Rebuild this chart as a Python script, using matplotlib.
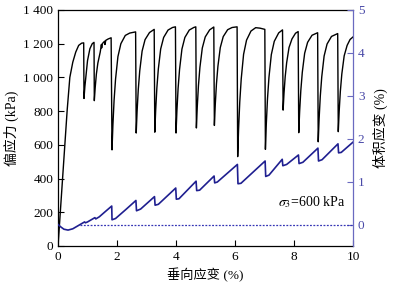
import matplotlib
matplotlib.use('Agg')
import matplotlib.pyplot as plt

plt.rcParams['font.family'] = ['Liberation Serif', 'Noto Sans CJK SC']
plt.rcParams['mathtext.fontset'] = 'stix'

# deviatoric stress (kPa) vs axial strain (%)
strain_q = [0, 0.12, 0.24, 0.31, 0.4, 0.5, 0.6, 0.7, 0.8, 0.87,
            0.88, 0.91, 0.95, 1.0, 1.08, 1.16, 1.22,
            1.23, 1.26, 1.3, 1.35, 1.43, 1.47, 1.48, 1.5, 1.58, 1.59, 1.62, 1.7, 1.8,
            1.83, 1.86, 1.9, 1.95, 2.03, 2.13, 2.28, 2.43, 2.63,
            2.65, 2.68, 2.72, 2.77, 2.85, 2.95, 3.1, 3.26,
            3.28, 3.31, 3.35, 3.4, 3.48, 3.58, 3.73, 3.88, 3.98,
            4.0, 4.03, 4.07, 4.12, 4.2, 4.3, 4.45, 4.6, 4.67,
            4.69, 4.72, 4.76, 4.81, 4.89, 4.99, 5.14, 5.28,
            5.3, 5.33, 5.37, 5.42, 5.5, 5.6, 5.75, 5.9, 6.07,
            6.09, 6.12, 6.16, 6.21, 6.29, 6.39, 6.54, 6.7, 6.85, 7.01,
            7.03, 7.06, 7.1, 7.15, 7.23, 7.33, 7.48, 7.61,
            7.63, 7.66, 7.7, 7.75, 7.83, 7.93, 8.05, 8.14,
            8.16, 8.19, 8.23, 8.28, 8.36, 8.46, 8.61, 8.8,
            8.82, 8.85, 8.89, 8.94, 9.02, 9.12, 9.27, 9.48,
            9.5, 9.53, 9.57, 9.62, 9.7, 9.8, 9.9, 10.0]
stress = [0, 310, 628, 806, 1000, 1090, 1150, 1190, 1203, 1205,
          875, 945, 1016, 1100, 1170, 1200, 1208,
          862, 940, 1020, 1085, 1150, 1195, 1175, 1200, 1215, 1195, 1220, 1228, 1235,
          570, 717, 864, 990, 1123, 1200, 1249, 1263, 1270,
          670, 799, 928, 1039, 1156, 1224, 1266, 1285,
          675, 806, 937, 1050, 1169, 1237, 1281, 1296, 1300,
          670, 802, 935, 1048, 1168, 1237, 1281, 1296, 1300,
          700, 826, 952, 1060, 1174, 1240, 1282, 1299,
          715, 838, 961, 1066, 1177, 1242, 1283, 1296, 1300,
          530, 691, 853, 991, 1137, 1221, 1275, 1295, 1292, 1285,
          573, 723, 872, 1000, 1135, 1214, 1264, 1282,
          806, 905, 1003, 1087, 1177, 1228, 1262, 1272,
          672, 797, 922, 1030, 1143, 1208, 1250, 1265,
          618, 753, 888, 1004, 1127, 1198, 1243, 1260,
          678, 798, 917, 1020, 1128, 1190, 1225, 1240]

# volumetric strain (%) vs axial strain (%)
strain_v = [0, 0.1, 0.2, 0.34, 0.5, 0.7, 0.9, 0.93, 1.0, 1.15, 1.25, 1.28, 1.4, 1.6, 1.82,
            1.83, 1.95, 2.3, 2.64, 2.66, 2.8, 3.27, 3.29, 3.4, 3.99, 4.01, 4.1, 4.68,
            4.7, 4.8, 5.29, 5.31, 5.4, 6.08, 6.1, 6.2, 7.02, 7.04, 7.15, 7.6,
            7.62, 7.75, 8.15, 8.17, 8.3, 8.81, 8.83, 8.95, 9.49, 9.51, 9.6, 10.0]
vol = [0.0, -0.06, -0.11, -0.13, -0.1, -0.02, 0.06, 0.04, 0.06, 0.12, 0.16, 0.13, 0.18, 0.3, 0.43,
       0.11, 0.14, 0.35, 0.56, 0.32, 0.36, 0.65, 0.45, 0.47, 0.85, 0.59, 0.6, 1.01,
       0.79, 0.8, 1.13, 0.97, 0.99, 1.40, 0.95, 0.96, 1.48, 1.12, 1.15, 1.52,
       1.37, 1.4, 1.62, 1.42, 1.45, 1.78, 1.48, 1.51, 1.88, 1.67, 1.68, 1.92]

zero_x = [0.75, 10]
zero_y = [0, 0]

blue = '#1f1f90'
axis_blue = '#6a6ac0'

fig = plt.figure(figsize=(4.03, 2.85), dpi=100)
ax = fig.add_axes([0.144, 0.137, 0.732, 0.828])
ax.plot(strain_q, stress, color='black', lw=1.0)
ax.set_xlim(0, 10)
ax.set_ylim(0, 1400)
ax.set_xticks([0, 2, 4, 6, 8, 10])
ax.set_yticks(range(0, 1401, 200))
ax.set_yticklabels(['0', '200', '400', '600', '800', '1 000', '1 200', '1 400'])
ax.tick_params(direction='in', length=4, labelsize=9.5, width=0.8)
ax.set_xlabel('垂向应变 (%)', fontsize=9.5, labelpad=4)
ax.set_ylabel('偏应力 (kPa)', fontsize=10, labelpad=3)
for s in ['left', 'top', 'bottom']:
    ax.spines[s].set_linewidth(0.9)
ax.spines['right'].set_visible(False)

ax2 = ax.twinx()
ax2.plot(zero_x, zero_y, color='#3535b5', lw=0.9, ls=(0, (1.5, 1.2)))
ax2.plot(strain_v, vol, color=blue, lw=1.2)
ax2.set_ylim(-0.5, 5)
ax2.set_yticks([0, 1, 2, 3, 4, 5])
ax2.tick_params(direction='in', length=4, labelsize=9.5, width=0.8,
                colors=axis_blue, labelcolor='#4a4aa8')
ax2.spines['right'].set_color(axis_blue)
ax2.spines['right'].set_linewidth(0.9)
for s in ['left', 'top', 'bottom']:
    ax2.spines[s].set_visible(False)
ax2.set_ylabel('体积应变 (%)', fontsize=10, labelpad=6)

ax.text(7.45, 260, r'$\sigma_3$=600 kPa', fontsize=10, va='center')

fig.savefig('out.png', dpi=100)
